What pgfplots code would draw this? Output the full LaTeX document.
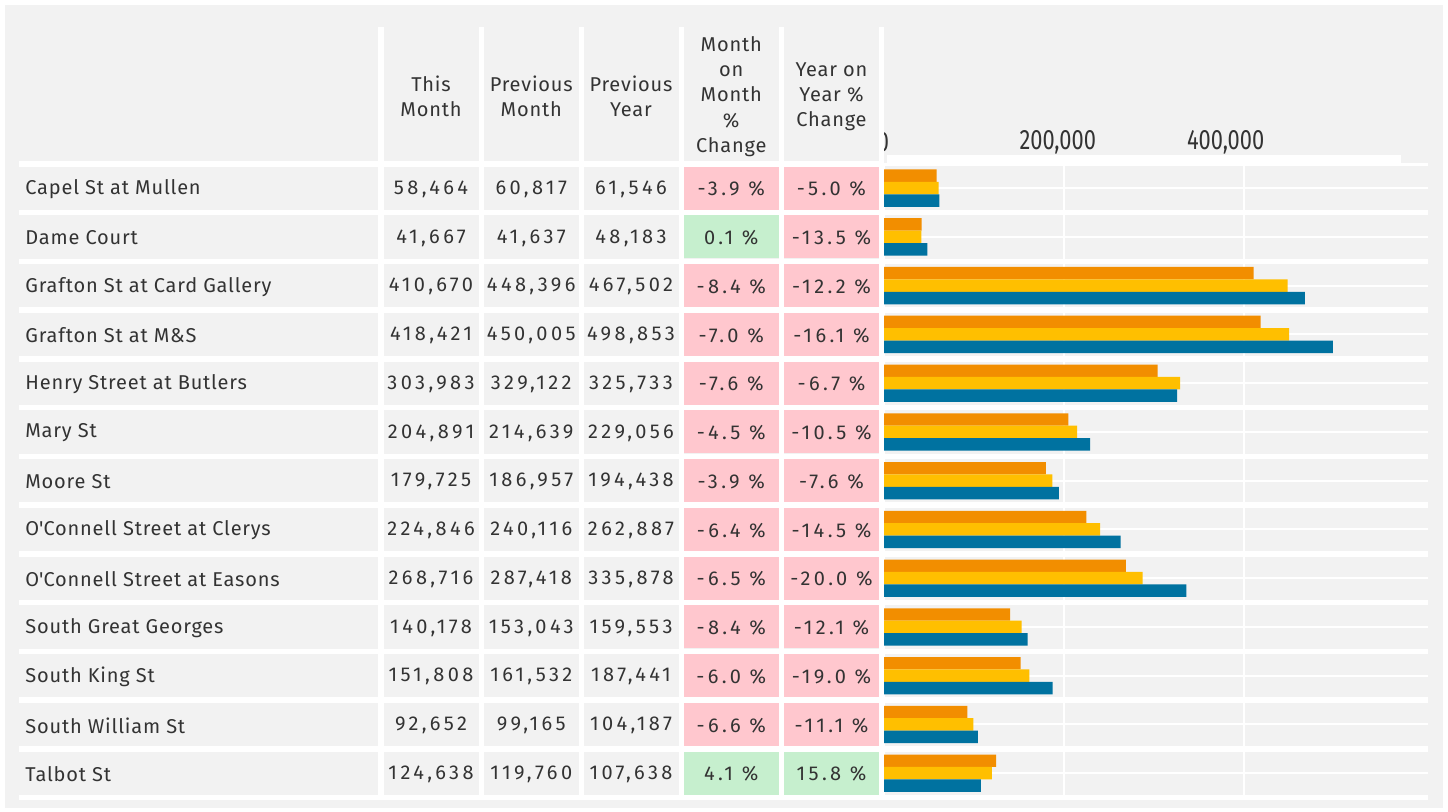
\documentclass[border=0pt]{standalone}
\usepackage{graphicx}
\usepackage{pgfplots}
\usepackage{pgfplotstable}
\pgfplotsset{compat=1.18}
\usepackage{fontspec}
\setmainfont{Fira Sans}[LetterSpace=4]
\newfontfamily\numfont{Fira Sans}[LetterSpace=17]
\newfontfamily\tickfont{Fira Sans}
\definecolor{bg}{HTML}{F2F2F2}
\definecolor{txt}{HTML}{333333}
\definecolor{cOrange}{HTML}{F28E00}
\definecolor{cYellow}{HTML}{FFBF00}
\definecolor{cBlue}{HTML}{0072A0}
\definecolor{cPink}{HTML}{FFC7CE}
\definecolor{cGreen}{HTML}{C6EFCE}

\pgfplotstableread[col sep=comma]{
name,this,pm,py,mom,yoy
Capel St at Mullen,58464,60817,61546,-3.9,-5.0
Dame Court,41667,41637,48183,0.1,-13.5
Grafton St at Card Gallery,410670,448396,467502,-8.4,-12.2
Grafton St at M\&S,418421,450005,498853,-7.0,-16.1
Henry Street at Butlers,303983,329122,325733,-7.6,-6.7
Mary St,204891,214639,229056,-4.5,-10.5
Moore St,179725,186957,194438,-3.9,-7.6
O\textquotesingle Connell Street at Clerys,224846,240116,262887,-6.4,-14.5
O\textquotesingle Connell Street at Easons,268716,287418,335878,-6.5,-20.0
South Great Georges,140178,153043,159553,-8.4,-12.1
South King St,151808,161532,187441,-6.0,-19.0
South William St,92652,99165,104187,-6.6,-11.1
Talbot St,124638,119760,107638,4.1,15.8
}\datatable

\newcommand{\numfmt}[1]{{\numfont\pgfmathprintnumber[fixed,precision=0,1000 sep={,},assume math mode=true]{#1}}}
\newcommand{\pctfmt}[1]{{\numfont\pgfmathprintnumber[fixed,fixed zerofill,precision=1,assume math mode=true]{#1}\ \%}}

\begin{document}
\begin{tikzpicture}
\begin{scope}[x=0.5pt,y=-0.5pt]
  \fill[white] (0,0) rectangle (1448,811);
  \fill[bg] (5,5) rectangle (1443,808);
  % header texts
  \tikzset{hdr/.style={align=center, text=txt, font=\fontsize{10}{12.6}\selectfont, inner sep=0pt}}
  \node[hdr] at (431,96) {This\\Month};
  \node[hdr] at (531.25,96) {Previous\\Month};
  \node[hdr] at (631,96) {Previous\\Year};
  \node[hdr] at (731.25,96.5) {Month\\on\\Month\\\%\\Change};
  \node[hdr] at (831.5,96.5) {Year on\\Year \%\\Change};
  % rows
  \foreach \i in {0,...,12}{
    \pgfmathsetmacro\yc{163.75+48.75*(\i+0.5)}
    \pgfplotstablegetelem{\i}{mom}\of\datatable \let\mom\pgfplotsretval
    \pgfplotstablegetelem{\i}{yoy}\of\datatable \let\yoy\pgfplotsretval
    \pgfmathtruncatemacro\posa{\mom>0 ? 1 : 0}
    \pgfmathtruncatemacro\posb{\yoy>0 ? 1 : 0}
    \ifnum\posa=1 \def\ca{cGreen}\else\def\ca{cPink}\fi
    \ifnum\posb=1 \def\cb{cGreen}\else\def\cb{cPink}\fi
    \fill[\ca] (684,\yc-21.6) rectangle (778.5,\yc+21.6);
    \fill[\cb] (784,\yc-21.6) rectangle (879,\yc+21.6);
    \pgfplotstablegetelem{\i}{name}\of\datatable
    \node[anchor=west, inner sep=0pt, text=txt, font=\fontsize{10}{12}\selectfont] at (25,\yc+1) {\pgfplotsretval};
    \pgfplotstablegetelem{\i}{this}\of\datatable
    \node[text=txt, font=\fontsize{10}{12}\selectfont] at (431,\yc+1) {\numfmt{\pgfplotsretval}};
    \pgfplotstablegetelem{\i}{pm}\of\datatable
    \node[text=txt, font=\fontsize{10}{12}\selectfont] at (531.25,\yc+1) {\numfmt{\pgfplotsretval}};
    \pgfplotstablegetelem{\i}{py}\of\datatable
    \node[text=txt, font=\fontsize{10}{12}\selectfont] at (631,\yc+1) {\numfmt{\pgfplotsretval}};
    \node[text=txt, font=\fontsize{10}{12}\selectfont] at (731.25,\yc+1) {\pctfmt{\mom}};
    \node[text=txt, font=\fontsize{10}{12}\selectfont] at (831.5,\yc+1) {\pctfmt{\yoy}};
  }
  % white separators
  \fill[white] (19,161) rectangle (884,166.5);
  \fill[white] (884,163) rectangle (1428,165.5);
  \fill[white] (887,155) rectangle (1401,163);
  \foreach \k in {1,...,13}{
    \fill[white] (19,{163.75+48.75*\k-2.75}) rectangle (1428,{163.75+48.75*\k+2.75});
  }
  \foreach \a/\b in {378/383.5,478.5/484,578.5/583.5,678.5/684,778.5/784,879/884}{
    \fill[white] (\a,27) rectangle (\b,800);
  }
  % clipped zero label
  \begin{scope}
    \clip (884,110) rectangle (900,160);
    \node[text=txt, font=\tickfont\fontsize{14}{14}\selectfont] at (883,142) {\scalebox{0.78}[1]{0}};
  \end{scope}
\end{scope}
\begin{axis}[
  at={(442pt,-398.75pt)}, anchor=south west,
  scale only axis, width=272pt, height=316.875pt,
  xmin=0, xmax=604444, ymin=0.5, ymax=13.5, y dir=reverse,
  xbar, bar width=0.255,
  axis line style={draw=none},
  major tick length=0pt,
  xtick={0,200000,400000},
  xticklabels={{},{\makebox[44.5pt][l]{\scalebox{0.78}[1]{200,000}}},{\makebox[57pt][l]{\scalebox{0.78}[1]{400,000}}}},
  xticklabel pos=upper,
  xticklabel style={anchor=center, yshift=10.5pt, font=\tickfont\fontsize{14}{14}\selectfont, text=txt},
  ytick={1,...,13}, yticklabels={},
  xmajorgrids, ymajorgrids,
  major grid style={white, line width=1pt},
  scaled x ticks=false,
  clip=false,
]
\addplot[fill=cOrange, draw=none, bar shift=-0.255] table[x=this, y expr=\coordindex+1] {\datatable};
\addplot[fill=cYellow, draw=none, bar shift=0] table[x=pm, y expr=\coordindex+1] {\datatable};
\addplot[fill=cBlue, draw=none, bar shift=0.255] table[x=py, y expr=\coordindex+1] {\datatable};
\end{axis}
\end{tikzpicture}
\end{document}
